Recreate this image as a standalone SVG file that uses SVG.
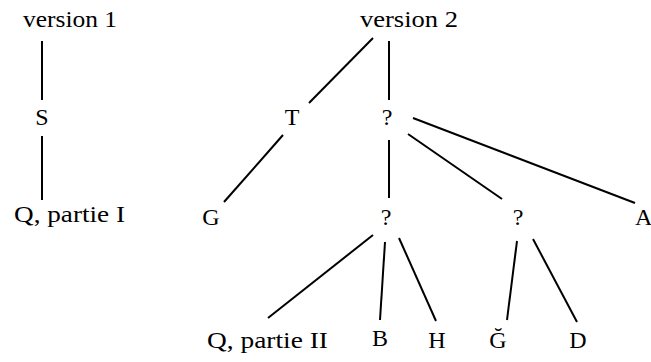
<svg xmlns="http://www.w3.org/2000/svg" width="651" height="362" viewBox="0 0 651 362">
<style>
.t text{font-size:24px;fill:#000}
.m{text-anchor:middle}
.e line{stroke:#000;stroke-width:2;stroke-linecap:butt}
</style>
<rect width="651" height="362" fill="#fff"/>
<g class="e" id="connectors">
<line x1="42" y1="41" x2="42" y2="100"/>
<line x1="42" y1="136" x2="42" y2="200"/>
<line x1="373" y1="38" x2="309" y2="103"/>
<line x1="389" y1="41" x2="389" y2="100"/>
<line x1="283" y1="135" x2="224" y2="202"/>
<line x1="389" y1="140" x2="389" y2="198"/>
<line x1="408" y1="134" x2="502" y2="199"/>
<line x1="413" y1="118" x2="635" y2="203"/>
<line x1="373" y1="235" x2="268" y2="318"/>
<line x1="385" y1="242" x2="380" y2="320"/>
<line x1="399" y1="238" x2="436" y2="321"/>
<line x1="517" y1="241" x2="507" y2="320"/>
<line x1="533" y1="239" x2="577" y2="322"/>
</g>
<g class="t" font-family="Liberation Serif, Times New Roman, DejaVu Serif, serif">
<g id="v1"><text x="23" y="27" textLength="94" lengthAdjust="spacingAndGlyphs">version 1</text></g>
<g id="S"><text class="m" x="42" y="125">S</text></g>
<g id="Q1"><text x="14" y="222" textLength="111" lengthAdjust="spacingAndGlyphs">Q, partie I</text></g>
<g id="v2"><text x="360" y="27" textLength="98" lengthAdjust="spacingAndGlyphs">version 2</text></g>
<g id="T"><text class="m" x="292" y="125">T</text></g>
<g id="q1"><text class="m" x="387" y="125">?</text></g>
<g id="G"><text class="m" x="211" y="225">G</text></g>
<g id="q2"><text class="m" x="386" y="225">?</text></g>
<g id="q3"><text class="m" x="518" y="225">?</text></g>
<g id="A"><text x="635" y="225">A</text></g>
<g id="Q2"><text x="207" y="348" textLength="121" lengthAdjust="spacingAndGlyphs">Q, partie II</text></g>
<g id="B"><text class="m" x="380" y="346">B</text></g>
<g id="H"><text class="m" x="437" y="348">H</text></g>
<g id="Gc"><text class="m" x="498" y="348">Ğ</text></g>
<g id="D"><text class="m" x="578" y="348">D</text></g>
</g>
</svg>
